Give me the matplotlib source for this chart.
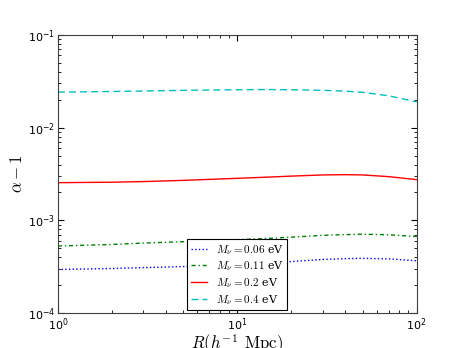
import matplotlib
matplotlib.use("Agg")
import matplotlib.pyplot as plt

# radius in h^-1 Mpc
R = [1, 2, 3, 5, 10, 15, 20, 30, 40, 50, 70, 100]

# alpha - 1 for each neutrino mass
a_006 = [0.000296, 0.000303, 0.000310, 0.000318, 0.000330, 0.000345, 0.000360,
         0.000380, 0.000387, 0.000390, 0.000385, 0.000367]
a_011 = [0.000530, 0.000550, 0.000570, 0.000590, 0.000620, 0.000640, 0.000660,
         0.000690, 0.000703, 0.000710, 0.000700, 0.000670]
a_02 = [0.00255, 0.00258, 0.00262, 0.00270, 0.00284, 0.00293, 0.00300,
        0.00309, 0.00311, 0.00309, 0.00296, 0.00275]
a_04 = [0.0241, 0.0245, 0.0248, 0.0252, 0.0256, 0.0257, 0.0256,
        0.0252, 0.0247, 0.0240, 0.0220, 0.0189]

labels = [r'$M_\nu=0.06$ eV', r'$M_\nu=0.11$ eV',
          r'$M_\nu=0.2$ eV', r'$M_\nu=0.4$ eV']

fig = plt.figure(figsize=(4.63, 3.48), dpi=100)
ax = fig.add_axes([0.125, 0.1, 0.775, 0.8])

ax.plot(R, a_006, 'b:', lw=1.0, label=labels[0])
ax.plot(R, a_011, 'g-.', lw=1.0, dashes=(3, 2, 1, 2), label=labels[1])
ax.plot(R, a_02, 'r-', lw=1.0, label=labels[2])
ax.plot(R, a_04, 'c--', lw=1.0, dashes=(5, 3), label=labels[3])

ax.set_xscale('log')
ax.set_yscale('log')
ax.set_xlim(1, 100)
ax.set_ylim(1e-4, 1e-1)

ax.tick_params(which='both', direction='in', top=True, right=True, labelsize=8, pad=2)
ax.tick_params(which='major', length=4)
ax.tick_params(which='minor', length=2)
for s in ax.spines.values():
    s.set_color('0.25')

ax.set_xlabel(r'$R(h^{-1}\;\,\rm{Mpc})$', fontsize=12, math_fontfamily='cm')
ax.set_ylabel(r'$\alpha - 1$', fontsize=12, math_fontfamily='cm')
ax.xaxis.set_label_coords(0.5, -0.07)
ax.yaxis.set_label_coords(-0.09, 0.5)

leg = ax.legend(loc='lower center', fontsize=8, fancybox=False, framealpha=1,
                edgecolor='black', borderaxespad=0.3, handlelength=1.5,
                labelspacing=0.25, borderpad=0.3, handletextpad=0.8)
leg.get_frame().set_linewidth(0.8)
for t in leg.get_texts():
    t.set_math_fontfamily('cm')
    t.set_family('serif')

fig.savefig('out.png', dpi=100)
